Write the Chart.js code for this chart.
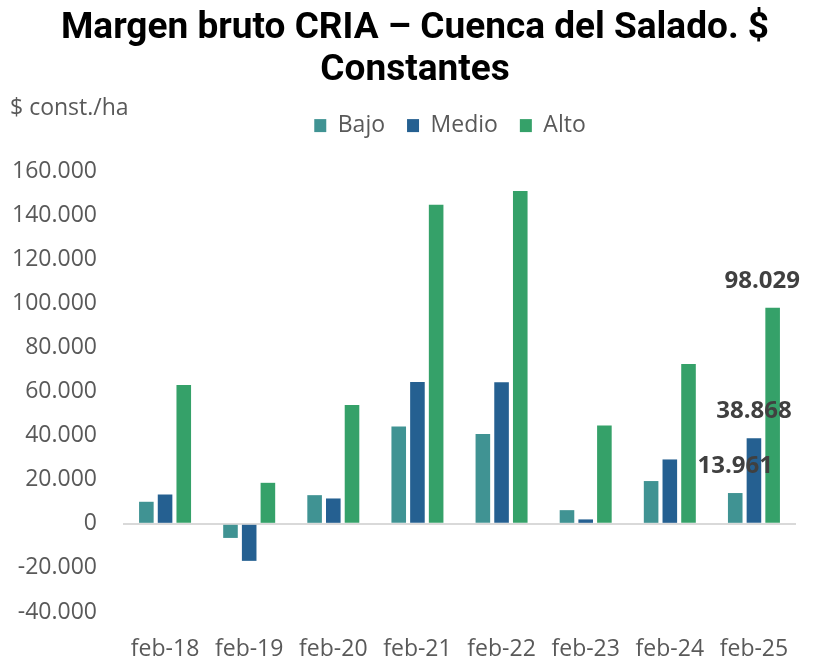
<!DOCTYPE html>
<html>
<head>
<meta charset="utf-8">
<script src="https://cdn.jsdelivr.net/npm/chart.js@4"></script>
<style>
  html, body { margin: 0; padding: 0; background: #fff; }
  #wrap { width: 814px; height: 662px; }
</style>
</head>
<body>
<div id="wrap"><canvas id="myChart" width="814" height="662"></canvas></div>
<script>
const labels = ['feb-18', 'feb-19', 'feb-20', 'feb-21', 'feb-22', 'feb-23', 'feb-24', 'feb-25'];
const bajo = [10000, -6400, 13000, 44100, 40800, 6200, 19400, 13961];
const medio = [13300, -16800, 11500, 64300, 64200, 2000, 29200, 38868];
const alto = [63000, 18600, 53900, 144700, 151000, 44600, 72500, 98029];

const fmt = v => {
    const s = Math.abs(Math.round(v)).toString().replace(/\B(?=(\d{3})+(?!\d))/g, '.');
    return (v < 0 ? '-' : '') + s;
};

// unit label top-left, value labels on the last group, nudge title/legend
const extras = {
    id: 'extras',
    beforeInit(chart) {
        const fit = chart.legend.fit;
        chart.legend.fit = function () {
            fit.bind(this)();
            this.height += 24;
        };
    },
    afterLayout(chart) {
        chart.titleBlock.left += 17;
        chart.titleBlock.right += 17;
        chart.legend.left += 52;
        chart.legend.right += 52;
    },
    afterDraw(chart) {
        const c = chart.ctx;
        c.save();
        c.font = '23px "Open Sans"';
        c.fillStyle = '#595959';
        c.textAlign = 'left';
        c.textBaseline = 'middle';
        c.fillText('$ const./ha', 10, 108);

        c.font = 'bold 24px "Open Sans"';
        c.fillStyle = '#404040';
        c.textAlign = 'center';
        const last = labels.length - 1;
        chart.data.datasets.forEach((ds, i) => {
            const bar = chart.getDatasetMeta(i).data[last];
            let x = bar.x;
            const w = c.measureText(fmt(ds.data[last])).width;
            if (x + w / 2 > 800) x = 800 - w / 2;
            c.fillText(fmt(ds.data[last]), x, bar.y - 27);
        });
        c.restore();
    }
};

const ctx = document.getElementById('myChart');

new Chart(ctx, {
    type: 'bar',
    data: {
        labels: labels,
        datasets: [
            { label: 'Bajo', data: bajo, backgroundColor: 'rgb(64, 147, 147)' },
            { label: 'Medio', data: medio, backgroundColor: 'rgb(37, 96, 145)' },
            { label: 'Alto', data: alto, backgroundColor: 'rgb(53, 161, 105)' }
        ]
    },
    options: {
        responsive: false,
        animation: false,
        categoryPercentage: 0.667,
        barPercentage: 0.78,
        layout: { padding: { left: 0, right: 18, top: 0, bottom: 0 } },
        plugins: {
            title: {
                display: true,
                text: ['Margen bruto CRIA – Cuenca del Salado. $', 'Constantes'],
                color: '#000',
                font: { family: 'Roboto', size: 37, weight: 'bold', lineHeight: 1.15 },
                padding: { top: 7, bottom: 0 }
            },
            legend: {
                display: true,
                labels: {
                    color: '#595959',
                    font: { family: 'Open Sans', size: 23 },
                    boxWidth: 12,
                    boxHeight: 13,
                    padding: 22
                }
            },
            tooltip: { enabled: false }
        },
        scales: {
            x: {
                afterFit(scale) { scale.height = 50; },
                grid: { display: false, drawTicks: false },
                border: { display: false },
                ticks: {
                    color: '#595959',
                    font: { family: 'Open Sans', size: 23 },
                    padding: 24,
                    maxRotation: 0
                }
            },
            y: {
                min: -40000,
                max: 160000,
                afterFit(scale) { scale.width = 123; },
                border: { display: false },
                grid: {
                    drawTicks: false,
                    color: c => c.tick && c.tick.value === 0 ? '#d9d9d9' : 'rgba(0,0,0,0)',
                    lineWidth: 2
                },
                ticks: {
                    stepSize: 20000,
                    color: '#595959',
                    font: { family: 'Open Sans', size: 23 },
                    padding: 26,
                    callback: v => fmt(v)
                }
            }
        }
    },
    plugins: [extras]
});
</script>
</body>
</html>
